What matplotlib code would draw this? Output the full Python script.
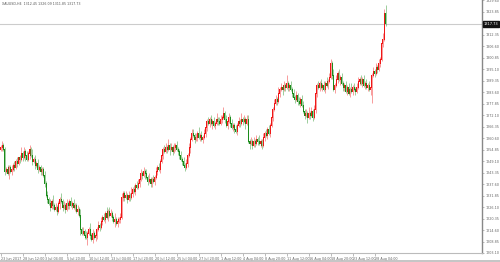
import numpy as np
import matplotlib
matplotlib.use("Agg")
import matplotlib.pyplot as plt

# H4 closes, 23 Jun 2017 -> 29 Aug 2017
closes = [
    1256, 1257, 1255, 1244, 1245, 1243, 1246, 1244, 1245, 1247,
    1246, 1249, 1248, 1251, 1250, 1253, 1251, 1254, 1252, 1250,
    1253, 1255, 1252, 1249, 1250, 1247, 1248, 1245, 1246, 1244,
    1245, 1242, 1238, 1232, 1230, 1228, 1226, 1229, 1227, 1225,
    1226, 1224, 1228, 1230, 1229, 1226, 1227, 1225, 1228, 1227,
    1229, 1227, 1228, 1226, 1227, 1224, 1225, 1222, 1215, 1213,
    1214, 1212, 1211, 1213, 1215, 1212, 1210, 1213, 1211, 1212,
    1215, 1217, 1216, 1219, 1221, 1220, 1223, 1221, 1224, 1222,
    1223, 1221, 1219, 1220, 1218, 1219, 1220, 1221, 1231, 1233,
    1231, 1232, 1230, 1232, 1231, 1233, 1235, 1234, 1237, 1236,
    1238, 1240, 1243, 1242, 1244, 1243, 1241, 1239, 1240, 1238,
    1240, 1239, 1241, 1244, 1246, 1245, 1249, 1252, 1255, 1254,
    1256, 1255, 1257, 1255, 1256, 1254, 1256, 1257, 1255, 1254,
    1252, 1250, 1249, 1247, 1246, 1248, 1252, 1256, 1260, 1263,
    1262, 1260, 1261, 1263, 1261, 1262, 1260, 1261, 1263, 1266,
    1269, 1268, 1270, 1268, 1269, 1267, 1268, 1270, 1269, 1268,
    1270, 1271, 1273, 1270, 1267, 1269, 1271, 1268, 1266, 1267,
    1265, 1264, 1267, 1269, 1268, 1270, 1269, 1270, 1268, 1270,
    1259, 1258, 1259, 1257, 1259, 1258, 1260, 1259, 1258, 1259,
    1257, 1261, 1263, 1262, 1265, 1263, 1267, 1271, 1275, 1278,
    1280, 1279, 1283, 1285, 1286, 1285, 1287, 1286, 1288, 1286,
    1287, 1285, 1283, 1281, 1280, 1282, 1279, 1278, 1280, 1277,
    1274, 1272, 1273, 1271, 1273, 1272, 1274, 1271, 1275, 1283,
    1287, 1286, 1288, 1286, 1287, 1285, 1288, 1287, 1289, 1291,
    1298, 1292, 1285, 1287, 1290, 1293, 1290, 1291, 1288, 1286,
    1287, 1284, 1286, 1283, 1285, 1284, 1286, 1285, 1284, 1286,
    1289, 1290, 1288, 1290, 1287, 1288, 1286, 1287, 1285, 1286,
    1292, 1294, 1293, 1296, 1295, 1298, 1300, 1308, 1310, 1323,
    1317.73,
]
first_open = 1255
# wick lengths above / below the body
hi_wick = ("1211121121 2120131212 1213121211 1121212131 2111312121 1212112131 "
           "2121131212 1212121312 2113121221 1212131212 2121212131 1212121212 "
           "2131212121 1212121212 2121312121 1212121312 2131212121 1212131212 "
           "2121212131 1212121212 2131212141 1212121212 2121312121 1212121312 "
           "2131212121 1212131212 2121212121 1212121232 4")
lo_wick = ("1212113121 2121212131 1312121212 2121212121 1213121212 2121212131 "
           "1214121212 2121212121 1213121212 2121212121 1212131212 2121212121 "
           "1213121212 2121212131 1212121212 2121312121 1212121212 2121212131 "
           "1312121212 2121212121 1212131212 2121212121 1213121212 2121212121 "
           "1212121312 2121212121 1212121213 8121212121 1")

xlabels = ["23 Jun 2017", "28 Jun 12:00", "3 Jul 04:00", "5 Jul 20:00", "10 Jul 12:00",
           "13 Jul 04:00", "17 Jul 20:00", "20 Jul 12:00", "25 Jul 04:00", "27 Jul 20:00",
           "1 Aug 12:00", "4 Aug 04:00", "8 Aug 20:00", "11 Aug 12:00", "16 Aug 04:00",
           "18 Aug 20:00", "23 Aug 12:00", "28 Aug 04:00"]
label_every = 16

yticks = [1203.10 + 5.75 * k for k in range(23)]
title = "XAUUSD,H4  1312.45 1326.09 1311.85 1317.73"
last_price = closes[-1]

hw = [int(c) for c in hi_wick.replace(" ", "")]
lw = [int(c) for c in lo_wick.replace(" ", "")]
c = np.array(closes, dtype=float)
o = np.r_[first_open, c[:-1]]
h = np.maximum(o, c) + np.array(hw)
l = np.minimum(o, c) - np.array(lw)
x = np.arange(len(c))

up_col = "#f01818"
dn_col = "#1c8c1c"

fig = plt.figure(figsize=(5.0, 2.62), dpi=100)
ax = fig.add_axes([0, 9 / 262, 482 / 500, 253 / 262])

cols = np.where(c >= o, up_col, dn_col)
ax.vlines(x, l, h, colors=cols, linewidth=0.5, alpha=0.6)
ax.bar(x, np.abs(c - o) + 0.3, bottom=np.minimum(o, c) - 0.15, width=0.7,
       color=cols, linewidth=0)

ax.axhline(last_price, color="#cccccc", linewidth=0.8, zorder=0)

ax.set_xlim(-0.5, 482 / 1.375 - 0.5)
ax.set_ylim(1203.2, 1329.7)

ax.yaxis.tick_right()
ax.set_yticks(yticks)
ax.set_yticklabels([f"{v:.2f}" for v in yticks])
ax.tick_params(axis="y", labelsize=2.4, labelcolor="#666666", length=1.5, width=0.4,
               color="#888888", pad=0.8)
ax.set_xticks(np.arange(len(xlabels)) * label_every)
ax.set_xticklabels(xlabels, ha="left")
ax.tick_params(axis="x", labelsize=2.4, labelcolor="#666666", length=2, width=0.4,
               color="#888888", pad=0.6)

for side in ["top", "left"]:
    ax.spines[side].set_visible(False)
ax.spines["right"].set_color("#888888")
ax.spines["right"].set_linewidth(1.0)
ax.spines["bottom"].set_color("#bbbbbb")
ax.spines["bottom"].set_linewidth(0.8)

# last price box on the price scale
ax.annotate(f"{last_price:.2f}", xy=(1.0, last_price), xycoords=("axes fraction", "data"),
            xytext=(1.2, 0), textcoords="offset points", va="center", ha="left",
            fontsize=2.6, color="white",
            bbox=dict(boxstyle="square,pad=0.3", fc="#111111", ec="#111111"))

fig.text(0.004, 0.992, title, fontsize=2.3, color="#555555", va="top", ha="left")
fig.add_artist(plt.Line2D([0, 1], [1.5 / 262, 1.5 / 262], color="#bbbbbb", linewidth=1.2))

fig.savefig("out.png", dpi=100)
